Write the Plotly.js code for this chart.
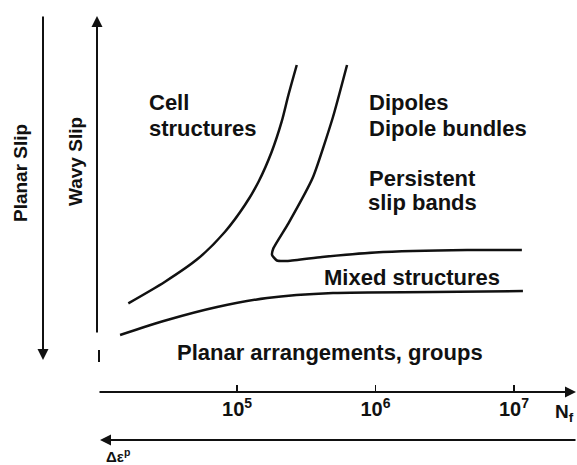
<!DOCTYPE html>
<html>
<head>
<meta charset="utf-8">
<script src="https://cdn.plot.ly/plotly-3.0.1.min.js"></script>
<style>html,body{margin:0;padding:0;background:#fff;}#chart{width:577px;height:465px;}</style>
</head>
<body>
<div id="chart"></div>
<script>
// Schematic boundaries (x: cycles to failure N_f, y: arbitrary amplitude units)
const cellX = [1.64e4, 3.02e4, 5.26e4, 8.19e4, 1.14e5, 1.43e5, 1.78e5, 2.10e5, 2.35e5, 2.70e5];
const cellY = [161.7, 183.3, 206.7, 233.3, 260, 283.3, 313.3, 343.3, 370, 400];

const dipoleX = [6.23e5, 4.93e5, 3.54e5, 2.35e5, 1.83e5, 1.79e5, 1.94e5, 2.33e5, 4.11e5, 9.92e5, 4.58e6, 1.14e7];
const dipoleY = [400, 348, 288, 241.7, 216.7, 210, 204.5, 204, 208, 212.5, 215, 215];

const planarX = [1.43e4, 3.13e4, 7.18e4, 1.65e5, 4.93e5, 2.60e6, 1.16e7];
const planarY = [130, 145, 158, 167, 172, 173, 174];

const tickVals = [1e5, 1e6, 1e7];
const tickText = ['<b>10<sup>5</sup></b>', '<b>10<sup>6</sup></b>', '<b>10<sup>7</sup></b>'];

const regionLabels = ['Cell', 'structures', 'Dipoles', 'Dipole bundles', 'Persistent', 'slip bands', 'Mixed structures', 'Planar arrangements, groups'];
const slipLabels = ['Planar Slip', 'Wavy Slip'];

// layout helpers (pixel -> paper)
const L = 98, W = 479, H = 465;
const px = p => (p - L) / W;
const py = p => 1 - p / H;

const FONT = 'Liberation Sans, Arial, sans-serif';

const traces = [
  {x: cellX, y: cellY, mode: 'lines', line: {color: '#111', width: 2.5, shape: 'spline', smoothing: 0.8}, hoverinfo: 'skip'},
  {x: dipoleX, y: dipoleY, mode: 'lines', line: {color: '#111', width: 2.5, shape: 'spline', smoothing: 0.5}, hoverinfo: 'skip'},
  {x: planarX, y: planarY, mode: 'lines', line: {color: '#111', width: 2.5, shape: 'spline', smoothing: 0.8}, hoverinfo: 'skip'}
];

const labelPos = [[147, 103], [147, 128], [367, 103], [367, 128], [367, 178], [366, 203], [322, 277], [175, 352]];
const annotations = regionLabels.map((t, i) => ({
  text: '<b>' + t + '</b>', xref: 'paper', yref: 'paper',
  x: px(labelPos[i][0]), y: py(labelPos[i][1]), xanchor: 'left', yanchor: 'middle',
  showarrow: false, font: {family: FONT, size: 22, color: '#111'}
}));

// rotated slip labels
annotations.push({text: '<b>' + slipLabels[0] + '</b>', xref: 'paper', yref: 'paper', x: px(20), y: py(173),
  xanchor: 'center', yanchor: 'middle', textangle: -90, showarrow: false, font: {family: FONT, size: 19, color: '#111'}});
annotations.push({text: '<b>' + slipLabels[1] + '</b>', xref: 'paper', yref: 'paper', x: px(75), y: py(162),
  xanchor: 'center', yanchor: 'middle', textangle: -90, showarrow: false, font: {family: FONT, size: 19, color: '#111'}});

// arrows
function arrow(hx, hy, tx, ty) {
  return {xref: 'paper', yref: 'paper', x: px(hx), y: py(hy), ax: tx - hx, ay: ty - hy,
    axref: 'pixel', ayref: 'pixel', showarrow: true, arrowhead: 2, arrowsize: 1.1, arrowwidth: 2,
    arrowcolor: '#111', text: '', standoff: 0, startstandoff: 0};
}
annotations.push(arrow(576, 392, 98, 392));   // N_f axis
annotations.push(arrow(100, 440, 577, 440));  // strain arrow
annotations.push(arrow(43, 360, 43, 15));     // planar slip
annotations.push(arrow(97, 16, 97, 334));     // wavy slip

annotations.push({text: '<b>N<sub>f</sub></b>', xref: 'paper', yref: 'paper', x: px(553), y: py(413),
  xanchor: 'left', yanchor: 'middle', showarrow: false, font: {family: FONT, size: 19, color: '#111'}});
annotations.push({text: '<b>Δε<sup>p</sup></b>', xref: 'paper', yref: 'paper', x: px(104), y: py(455),
  xanchor: 'left', yanchor: 'middle', showarrow: false, font: {family: FONT, size: 15, color: '#111'}});

const layout = {
  width: 577, height: 465,
  margin: {l: L, r: 0, t: 0, b: 0},
  paper_bgcolor: '#fff', plot_bgcolor: 'rgba(0,0,0,0)',
  showlegend: false,
  xaxis: {type: 'log', range: [3.996, 7.455], anchor: 'free', position: py(392),
    tickvals: tickVals, ticktext: tickText, ticks: 'inside', ticklen: 7, tickwidth: 1.5, tickcolor: '#111',
    showline: false, showgrid: false, zeroline: false,
    tickfont: {family: FONT, size: 20, color: '#111'}, ticklabelstandoff: 3, fixedrange: true},
  yaxis: {range: [0, 465], visible: false, showgrid: false, zeroline: false, fixedrange: true},
  shapes: [{type: 'line', xref: 'paper', yref: 'paper', x0: px(99), x1: px(99), y0: py(350), y1: py(362),
    line: {color: '#111', width: 2}}],
  annotations: annotations
};

Plotly.newPlot('chart', traces, layout, {staticPlot: true, displayModeBar: false});
</script>
</body>
</html>
